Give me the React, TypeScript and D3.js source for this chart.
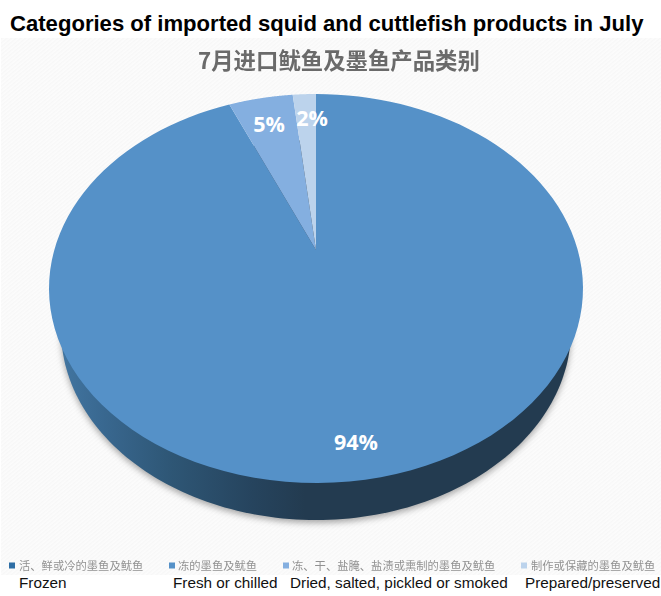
import React from 'react';
import * as d3 from 'd3';

const titleEn = 'Categories of imported squid and cuttlefish products in July';
const titleCn = '7月进口鱿鱼及墨鱼产品类别';

const categoriesCn = ['活、鲜或冷的墨鱼及鱿鱼', '冻的墨鱼及鱿鱼', '冻、干、盐腌、盐渍或熏制的墨鱼及鱿鱼', '制作或保藏的墨鱼及鱿鱼'];
const categoriesEn = ['Frozen', 'Fresh or chilled', 'Dried, salted, pickled or smoked', 'Prepared/preserved'];
const shares = [0, 93.6, 4.7, 1.7];
const shareLabels = ['0%', '94%', '5%', '2%'];
const colors = ['#2f6ea5', '#5591c8', '#84afe0', '#bcd3ec'];

const legendX = [9, 169, 283, 521];
const legendTextX = [19, 178, 292, 531];
const legendEnX = [19, 173, 290, 525];

// tilted disc: projective mapping so the apex sits above the middle of the ellipse
const cx = 316;
const apexY = 250;
const topY = 94;
const bottomY = 483;
const halfWidth = 267;

// lower rim of the disc, a bit smaller since it is further from the viewer
const lowerMidY = 330;
const lowerRx = 255;
const lowerRy = 190;

const ry = (bottomY - topY) / 2;
const midY = (bottomY + topY) / 2;
const c = -(midY - apexY) / ry;
const k = halfWidth * Math.sqrt(1 - c * c);
const b = apexY - midY;

const project = (angle: number): [number, number] => {
  // angle clockwise from the top, as d3.pie gives it
  const u = Math.sin(angle);
  const v = -Math.cos(angle);
  const w = 1 + c * v;
  return [cx + (k * u) / w, midY + (ry * v + b) / w];
};

const App = () => {
  const slices = d3.pie<number>().sort(null).value((d) => d)(shares);
  const line = d3.line<[number, number]>();

  const sample = (a0: number, a1: number, n = 120) => {
    const s = d3.scaleLinear().domain([0, n]).range([a0, a1]);
    return d3.range(n + 1).map((i) => project(s(i)));
  };

  const slicePath = (a0: number, a1: number) =>
    line([[cx, apexY], ...sample(a0, a1), [cx, apexY]]) + 'Z';

  const lowerRim = d3.range(241).map((i) => {
    const t = (i / 240) * Math.PI * 2;
    return [cx + lowerRx * Math.sin(t), lowerMidY - lowerRy * Math.cos(t)] as [number, number];
  });
  const lowerPath = (line(lowerRim) ?? '') + 'Z';

  const labelPos = [null, [356, 441], [269, 123], [312, 117]];

  return (
    <svg width={661} height={596} style={{ position: 'absolute', left: 0, top: 0 }}>
      <defs>
        <pattern id="hatch" width="3" height="3" patternUnits="userSpaceOnUse" patternTransform="rotate(50)">
          <rect width="3" height="3" fill="#fcfcfc" />
          <rect width="1.4" height="3" fill="#f7f7f7" />
        </pattern>
        <linearGradient id="wallGrad" gradientUnits="userSpaceOnUse" x1={49} x2={583} y1={0} y2={0}>
          <stop offset="0.03" stopColor="#41749f" />
          <stop offset="0.1" stopColor="#396890" />
          <stop offset="0.23" stopColor="#2e5675" />
          <stop offset="0.38" stopColor="#26445e" />
          <stop offset="0.48" stopColor="#233b50" />
          <stop offset="1" stopColor="#233b50" />
        </linearGradient>
        <filter id="shadow" x="-10%" y="-10%" width="120%" height="120%">
          <feGaussianBlur stdDeviation="3" />
        </filter>
        <filter id="soft" x="-5%" y="-20%" width="110%" height="140%">
          <feGaussianBlur stdDeviation="0.4" />
        </filter>
      </defs>
      <rect width={661} height={596} fill="#ffffff" />
      <rect x={1} y={38} width={660} height={537} fill="url(#hatch)" />

      <text x={10} y={31} fontFamily="Liberation Sans" fontWeight="bold" fontSize={22.1} fill="#000">{titleEn}</text>
      <text x={198} y={69} fontFamily="Noto Sans CJK SC" fontWeight="bold" fontSize={22.4} fill="#6a6a6a" filter="url(#soft)">{titleCn}</text>

      <path d={lowerPath} fill="#555" opacity={0.5} filter="url(#shadow)" transform="translate(0,3)" />
      <path d={lowerPath} fill="url(#wallGrad)" />
      {slices.map((s, i) => s.value > 0 && (
        <path key={i} d={slicePath(s.startAngle, s.endAngle)} fill={colors[i]} />
      ))}

      {slices.map((s, i) => s.value > 0 && (
        <text key={i} x={labelPos[i]![0]} y={labelPos[i]![1]} textAnchor="middle" dominantBaseline="central"
          fontFamily="Open Sans" fontWeight="700" fontSize={21.5} fill="#fff">{shareLabels[i]}</text>
      ))}

      {categoriesCn.map((t, i) => (
        <g key={t} filter="url(#soft)">
          <rect x={legendX[i]} y={562.5} width={6} height={6} fill={colors[i]} />
          <text x={legendTextX[i]} y={569.5} fontFamily="Noto Sans CJK SC" fontSize={11.3} fill="#929292">{t}</text>
        </g>
      ))}
      {categoriesEn.map((t, i) => (
        <text key={t} x={legendEnX[i]} y={588} fontFamily="Liberation Sans" fontSize={15.3} fill="#111">{t}</text>
      ))}
    </svg>
  );
};

export default App;
